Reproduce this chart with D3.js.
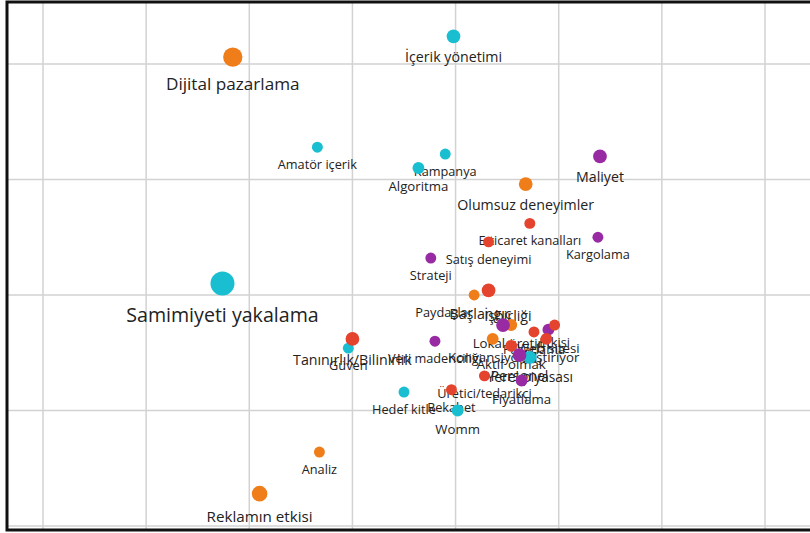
<!DOCTYPE html>
<html lang="tr">
<head>
  <meta charset="UTF-8">
  <title>Kavram haritası</title>
  <script src="https://d3js.org/d3.v7.min.js"></script>
  <style>
    body { margin: 0; background: #fff; }
    .lbl { font-family: "Open Sans", "Noto Sans", sans-serif; fill: #222; text-anchor: middle; }
  </style>
</head>
<body>
  <svg id="chart" width="810" height="533"></svg>

  <script>
    // tick values of the grid
    const xTicks = [-2, -1.5, -1, -0.5, 0, 0.5, 1, 1.5];
    const yTicks = [-1, -0.5, 0, 0.5, 1];

    // one series per colour group
    const cyanNames  = ["İçerik yönetimi", "Amatör içerik", "Kampanya", "Algoritma", "Samimiyeti yakalama", "Güven", "Hedef kitle", "Womm", "Yerel piyasası"];
    const cyanX      = [-0.01, -0.67, -0.05, -0.18, -1.13, -0.52, -0.25, 0.01, 0.36];
    const cyanY      = [1.12, 0.64, 0.61, 0.55, 0.05, -0.23, -0.42, -0.50, -0.27];
    const cyanN      = [5, 2, 2, 3, 16, 2, 2, 3, 4];

    const orangeNames = ["Dijital pazarlama", "Olumsuz deneyimler", "Paydaşlar", "Lokal üretim", "Konvansiyonel", "Analiz", "Reklamın etkisi"];
    const orangeX     = [-1.08, 0.34, 0.09, 0.27, 0.18, -0.66, -0.95];
    const orangeY     = [1.03, 0.48, 0.00, -0.13, -0.19, -0.68, -0.86];
    const orangeN     = [11, 5, 2, 3, 3, 2, 7];

    const purpleNames = ["Maliyet", "Kargolama", "Strateji", "Veri madenciliği", "İşbirliği", "Web sitesi", "Personel", "Fiyatlama"];
    const purpleX     = [0.70, 0.69, -0.12, -0.10, 0.23, 0.45, 0.31, 0.32];
    const purpleY     = [0.60, 0.25, 0.16, -0.20, -0.13, -0.15, -0.26, -0.37];
    const purpleN     = [5, 2, 2, 2, 5, 3, 5, 3];

    const redNames = ["E-ticaret kanalları", "Satış deneyimi", "Başlangıç", "Tanınırlık/Bilinirlik", "Pazarlama", "Etkisi", "Aktif olmak", "Yetiştiriyor", "Üretici/tedarikçi", "Rekabet"];
    const redX     = [0.36, 0.16, 0.16, -0.50, 0.38, 0.48, 0.27, 0.44, 0.14, -0.02];
    const redY     = [0.31, 0.23, 0.02, -0.19, -0.16, -0.13, -0.22, -0.19, -0.35, -0.41];
    const redN     = [2, 2, 5, 5, 2, 2, 3, 3, 2, 2];

    const groups = [
      { color: "#ef7d1a", names: orangeNames, xs: orangeX, ys: orangeY, ns: orangeN },
      { color: "#19bfd0", names: cyanNames, xs: cyanX, ys: cyanY, ns: cyanN },
      { color: "#982aa3", names: purpleNames, xs: purpleX, ys: purpleY, ns: purpleN },
      { color: "#e4432d", names: redNames, xs: redX, ys: redY, ns: redN }
    ];

    const points = [];
    groups.forEach(g => g.names.forEach((name, i) => {
      points.push({ name: name, x: g.xs[i], y: g.ys[i], n: g.ns[i], color: g.color });
    }));

    // a few labels in the crowded middle sit apart from their dot
    const labelNudge = {
      "Paydaşlar": { dx: -30, dy: 0 },
      "Başlangıç": { dx: -8, dy: 3 },
      "İşbirliği": { dx: 5, dy: -30 }
    };

    const width = 810, height = 533;
    const frame = { left: 7, top: 2, bottom: 530, right: 812 };

    const svg = d3.select("#chart");

    const x = d3.scaleLinear().domain([-2, 1.5]).range([43, 765]);
    const y = d3.scaleLinear().domain([-1, 1]).range([526, 64]);
    const r = d3.scaleLinear().domain([1, 16]).range([5, 12]);
    const fs = d3.scaleLinear().domain([1, 16]).range([12.5, 20]);

    // grid
    svg.append("g")
       .selectAll("line")
       .data(xTicks)
       .enter().append("line")
       .attr("x1", d => x(d)).attr("x2", d => x(d))
       .attr("y1", frame.top).attr("y2", frame.bottom)
       .attr("stroke", "#d2d2d2").attr("stroke-width", 1.5);

    svg.append("g")
       .selectAll("line")
       .data(yTicks)
       .enter().append("line")
       .attr("x1", frame.left).attr("x2", width)
       .attr("y1", d => y(d)).attr("y2", d => y(d))
       .attr("stroke", "#d2d2d2").attr("stroke-width", 1.5);

    // labels below the dots, dots drawn over them
    const textScale = 0.98;
    const nudge = d => labelNudge[d.name] || { dx: 0, dy: 0 };
    svg.append("g")
       .selectAll("text")
       .data(points)
       .enter().append("text")
       .attr("class", "lbl")
       .attr("x", d => x(d.x) + nudge(d).dx)
       .attr("y", d => y(d.y) + r(d.n) + fs(d.n) * 1.5 - 3 + nudge(d).dy)
       .style("font-size", d => (fs(d.n) * textScale) + "px")
       .text(d => d.name);

    svg.append("g")
       .selectAll("circle")
       .data(points)
       .enter().append("circle")
       .attr("cx", d => x(d.x))
       .attr("cy", d => y(d.y))
       .attr("r", d => r(d.n))
       .attr("fill", d => d.color);

    // black frame: left, top and bottom edges
    svg.append("path")
       .attr("d", `M${frame.right},${frame.top}H${frame.left}V${frame.bottom}H${frame.right}`)
       .attr("fill", "none")
       .attr("stroke", "#111")
       .attr("stroke-width", 3);
  </script>
</body>
</html>
